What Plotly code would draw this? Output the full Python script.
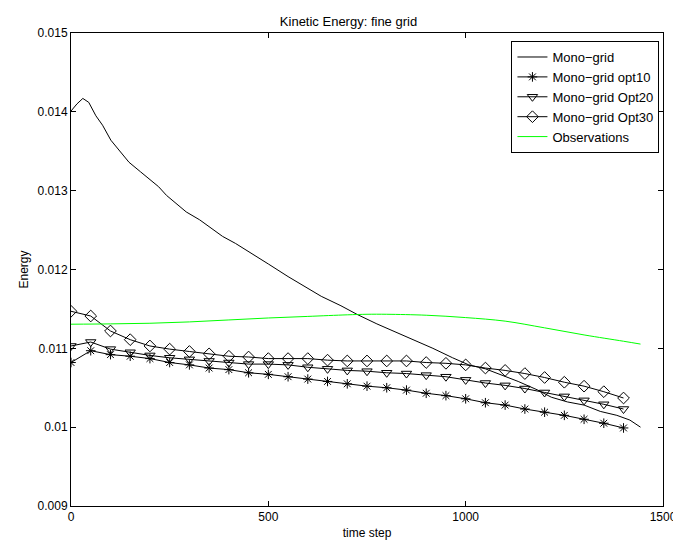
import plotly.graph_objects as go

# ---- data ----
t_markers = [0, 50, 100, 150, 200, 250, 300, 350, 400, 450, 500, 550, 600, 650, 700,
             750, 800, 850, 900, 950, 1000, 1050, 1100, 1150, 1200, 1250, 1300, 1350, 1400]

opt10 = [0.01082, 0.01097, 0.01092, 0.01090, 0.01087, 0.01082, 0.01079, 0.01075, 0.01073, 0.01069,
         0.01067, 0.01064, 0.01061, 0.01058, 0.01055, 0.01052, 0.01050, 0.01047, 0.01043, 0.01040,
         0.01036, 0.01031, 0.01028, 0.01023, 0.01019, 0.01015, 0.01010, 0.01005, 0.00999]

opt20 = [0.01103, 0.01108, 0.01099, 0.01095, 0.01091, 0.01088, 0.01086, 0.01084, 0.01082, 0.01080,
         0.01080, 0.01079, 0.01076, 0.01074, 0.01072, 0.01071, 0.01069, 0.01068, 0.01066, 0.01064,
         0.01060, 0.01056, 0.01053, 0.01049, 0.01044, 0.01039, 0.01034, 0.01029, 0.01023]

opt30 = [0.01147, 0.01141, 0.01122, 0.01111, 0.01103, 0.01099, 0.01096, 0.01093, 0.01090, 0.01089,
         0.01087, 0.01087, 0.01087, 0.01085, 0.01084, 0.01084, 0.01084, 0.01084, 0.01082, 0.01081,
         0.01079, 0.01075, 0.01072, 0.01068, 0.01063, 0.01057, 0.01052, 0.01045, 0.01037]

t_mono = [0, 15, 30, 45, 63, 80, 101, 126, 147, 176, 201, 222, 242, 267, 292, 326, 350, 384, 417,
          450, 500, 550, 592, 634, 684, 725, 775, 825, 875, 917, 967, 1008, 1050, 1092, 1133,
          1183, 1217, 1258, 1300, 1341, 1383, 1416, 1443]
mono = [0.01401, 0.01410, 0.01417, 0.01412, 0.01395, 0.01383, 0.01364, 0.01349, 0.01336, 0.01324,
        0.01313, 0.01305, 0.01294, 0.01284, 0.01273, 0.01263, 0.01254, 0.01242, 0.01233,
        0.01223, 0.01207, 0.01191, 0.01179, 0.01166, 0.01154, 0.01143, 0.01131, 0.01120, 0.01110,
        0.01100, 0.01088, 0.01079, 0.01074, 0.01066, 0.01058, 0.01047, 0.01038, 0.01032, 0.01028,
        0.01020, 0.01015, 0.01009, 0.01000]

t_obs = [0, 100, 200, 300, 400, 500, 600, 700, 750, 800, 900, 1000, 1100, 1200, 1300, 1400, 1443]
obs = [0.011306, 0.011310, 0.011318, 0.011335, 0.011360, 0.011385, 0.011405, 0.011425, 0.011432,
       0.011432, 0.011420, 0.011390, 0.011345, 0.011260, 0.011170, 0.011090, 0.011054]

x_ticks = [0, 500, 1000, 1500]
y_ticks = [0.009, 0.010, 0.011, 0.012, 0.013, 0.014, 0.015]
y_ticklabels = ["0.009", "0.01", "0.011", "0.012", "0.013", "0.014", "0.015"]

FONT = "Liberation Sans, Arial, Helvetica, sans-serif"

fig = go.Figure()
fig.add_trace(go.Scatter(x=t_mono, y=mono, mode="lines", name="Mono−grid",
                         line=dict(color="black", width=1)))
fig.add_trace(go.Scatter(x=t_markers, y=opt10, mode="lines+markers", name="Mono−grid opt10",
                         line=dict(color="black", width=1),
                         marker=dict(symbol="asterisk-open", size=8, color="black",
                                     line=dict(color="black", width=1))))
fig.add_trace(go.Scatter(x=t_markers, y=opt20, mode="lines+markers", name="Mono−grid Opt20",
                         line=dict(color="black", width=1),
                         marker=dict(symbol="triangle-down-open", size=9, color="black",
                                     line=dict(color="black", width=1))))
fig.add_trace(go.Scatter(x=t_markers, y=opt30, mode="lines+markers", name="Mono−grid Opt30",
                         line=dict(color="black", width=1),
                         marker=dict(symbol="diamond-open", size=9, color="black",
                                     line=dict(color="black", width=1))))
fig.add_trace(go.Scatter(x=t_obs, y=obs, mode="lines", name="Observations",
                         line=dict(color="#00ff00", width=1, shape="spline")))

axis_common = dict(showline=True, linecolor="black", linewidth=1, mirror="ticks",
                   ticks="inside", ticklen=5, tickcolor="black", showgrid=False,
                   zeroline=False, tickfont=dict(size=12, color="black", family=FONT))

fig.update_xaxes(range=[0, 1500], tickvals=x_ticks, ticktext=[str(v) for v in x_ticks],
                 title=dict(text="time step", font=dict(size=12, color="black", family=FONT),
                            standoff=5),
                 **axis_common)
fig.update_yaxes(range=[0.009, 0.015], tickvals=y_ticks, ticktext=y_ticklabels,
                 title=dict(text="Energy", font=dict(size=12, color="black", family=FONT),
                            standoff=6),
                 **axis_common)

fig.update_layout(
    width=681, height=542,
    margin=dict(l=63, r=18, t=25, b=41),
    paper_bgcolor="white", plot_bgcolor="white",
    font=dict(family=FONT, color="black", size=12),
    title=dict(text="Kinetic Energy: fine grid", x=0.5, xanchor="center",
               y=1 - 13 / 542, yanchor="middle", font=dict(size=13, family=FONT, color="black")),
    legend=dict(x=0.994, y=0.983, xanchor="right", yanchor="top",
                bgcolor="white", bordercolor="black", borderwidth=1,
                font=dict(size=13, family=FONT, color="black"),
                tracegroupgap=0, itemwidth=30),
    showlegend=True,
)

fig.write_html("out.html")
